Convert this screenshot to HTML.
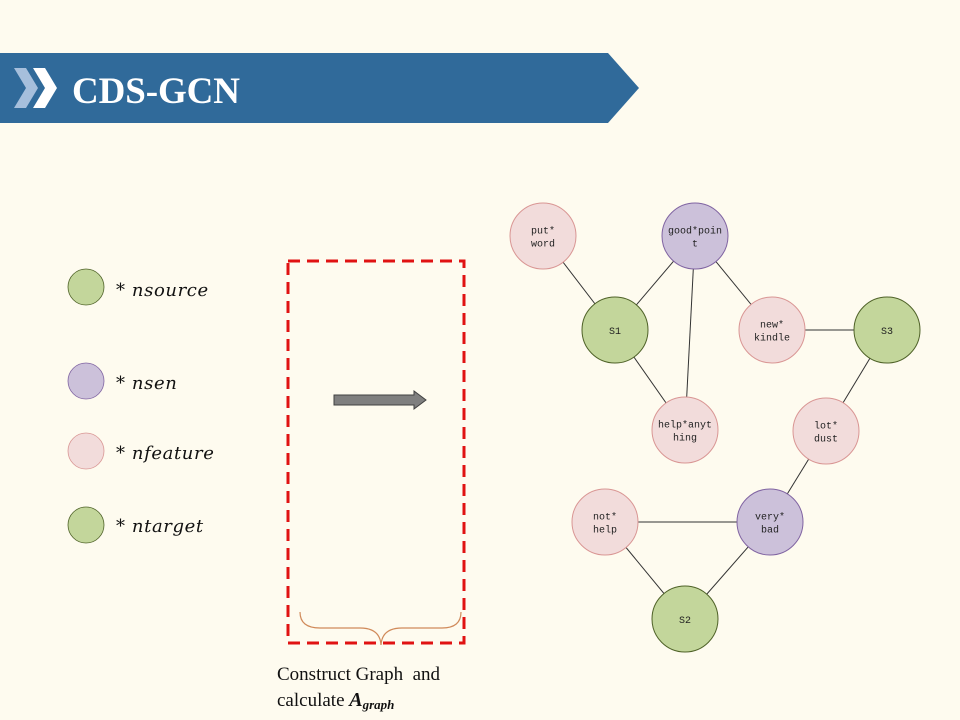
<!DOCTYPE html>
<html><head><meta charset="utf-8"><style>
html,body{margin:0;padding:0;background:#fefbef;}
svg{display:block;}
</style></head><body>
<svg width="960" height="720" viewBox="0 0 960 720" xmlns="http://www.w3.org/2000/svg">
<rect x="0" y="0" width="960" height="720" fill="#fefbef"/>
<polygon points="0,53 608,53 639,88 608,123 0,123" fill="#306a9a"/>
<polygon points="14,68 26,68 38,88 26,108 14,108 26,88" fill="#a6bfdc"/>
<polygon points="33,68 45,68 57,88 45,108 33,108 45,88" fill="#ffffff"/>
<text x="72" y="103" font-family="Liberation Serif, serif" font-weight="bold" font-size="37" fill="#ffffff" textLength="168">CDS-GCN</text>

<g>
<circle cx="86" cy="287" r="18" fill="#c3d69b" stroke="#4f6228" stroke-width="0.8"/>
<text x="116" y="296" font-family="DejaVu Serif, serif" font-style="italic" font-size="18" letter-spacing="0.6" fill="#111">* nsource</text>
<circle cx="86" cy="381" r="18" fill="#ccc1da" stroke="#8064a2" stroke-width="0.8"/>
<text x="116" y="389" font-family="DejaVu Serif, serif" font-style="italic" font-size="18" letter-spacing="0.6" fill="#111">* nsen</text>
<circle cx="86" cy="451" r="18" fill="#f2dcdb" stroke="#d99694" stroke-width="0.8"/>
<text x="116" y="459" font-family="DejaVu Serif, serif" font-style="italic" font-size="18" letter-spacing="0.6" fill="#111">* nfeature</text>
<circle cx="86" cy="525" r="18" fill="#c3d69b" stroke="#4f6228" stroke-width="0.8"/>
<text x="116" y="532" font-family="DejaVu Serif, serif" font-style="italic" font-size="18" letter-spacing="0.6" fill="#111">* ntarget</text>
</g>

<rect x="288" y="261" width="176" height="382" fill="none" stroke="#e01212" stroke-width="3" stroke-dasharray="12,7"/>
<polygon points="334,395 414,395 414,391 426,400 414,409 414,405 334,405" fill="#7f7f7f" stroke="#404040" stroke-width="1"/>
<path d="M300,612 Q300,628 320,628 L360,628 Q380,628 381,645 Q382,628 402,628 L442,628 Q461,628 461,612" fill="none" stroke="#d08a5a" stroke-width="1.2"/>
<text x="277" y="680" font-family="Liberation Serif, serif" font-size="19" fill="#111" xml:space="preserve">Construct Graph  and</text>
<text x="277" y="706" font-family="Liberation Serif, serif" font-size="19" fill="#111">calculate <tspan font-weight="bold" font-style="italic" font-size="20">A</tspan><tspan font-weight="bold" font-style="italic" font-size="13" dy="3">graph</tspan></text>

<g id="graph"></g>
</svg>
<script>
var nodeIds = ['put','good','s1','newk','s3','helpa','lot','noth','very','s2'];
var nodeLabels = [['put*','word'],['good*poin','t'],['S1'],['new*','kindle'],['S3'],['help*anyt','hing'],['lot*','dust'],['not*','help'],['very*','bad'],['S2']];
var nodeTypes = ['feature','sen','source','feature','source','feature','feature','feature','sen','source'];
var nodeX = [543,695,615,772,887,685,826,605,770,685];
var nodeY = [236,236,330,330,330,430,431,522,522,619];
var edgeFrom = ['put','s1','good','good','s1','newk','s3','lot','noth','noth','very'];
var edgeTo = ['s1','good','helpa','newk','helpa','s3','lot','very','very','s2','s2'];

var NS='http://www.w3.org/2000/svg';
var g=document.getElementById('graph');
var fills={feature:'#f2dcdb',sen:'#ccc1da',source:'#c3d69b'};
var strokes={feature:'#d99694',sen:'#8064a2',source:'#4f6228'};
function idx(id){return nodeIds.indexOf(id);}
for(var i=0;i<edgeFrom.length;i++){
  var a=idx(edgeFrom[i]),b=idx(edgeTo[i]);
  var l=document.createElementNS(NS,'line');
  l.setAttribute('x1',nodeX[a]);l.setAttribute('y1',nodeY[a]);
  l.setAttribute('x2',nodeX[b]);l.setAttribute('y2',nodeY[b]);
  l.setAttribute('stroke','#333');l.setAttribute('stroke-width','1');
  
  
  g.appendChild(l);
}
for(var j=0;j<nodeIds.length;j++){
  var c=document.createElementNS(NS,'circle');
  c.setAttribute('cx',nodeX[j]);c.setAttribute('cy',nodeY[j]);c.setAttribute('r',33);
  c.setAttribute('fill',fills[nodeTypes[j]]);c.setAttribute('stroke',strokes[nodeTypes[j]]);
  c.setAttribute('stroke-width','1');
  
  
  g.appendChild(c);
  var lines=nodeLabels[j];
  for(var k=0;k<lines.length;k++){
    var t=document.createElementNS(NS,'text');
    var y=nodeY[j]+4+(k-(lines.length-1)/2)*13;
    t.setAttribute('x',nodeX[j]);t.setAttribute('y',y);
    t.setAttribute('text-anchor','middle');
    t.setAttribute('font-family','Liberation Mono, monospace');
    t.setAttribute('font-size','10');t.setAttribute('fill','#222');
    t.textContent=lines[k];
    
    
    g.appendChild(t);
  }
}
</script>
</body></html>
